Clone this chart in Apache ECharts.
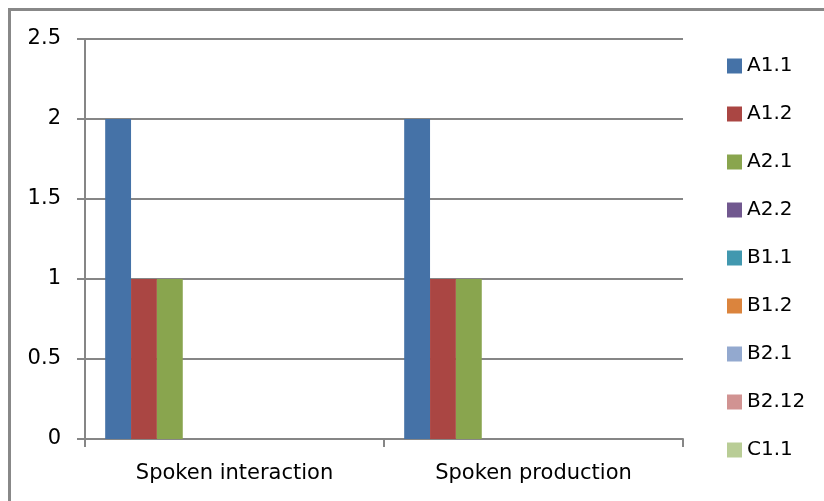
<!DOCTYPE html>
<html>
<head>
<meta charset="utf-8">
<script src="https://cdn.jsdelivr.net/npm/echarts@6/dist/echarts.min.js"></script>
<style>
  html, body { margin: 0; padding: 0; background: #fff; }
  #chart { width: 824px; height: 501px; }
</style>
</head>
<body>
<div id="chart"></div>
<script>
// categories and series
var categories = ["Spoken interaction", "Spoken production"];
var seriesNames = ["A1.1", "A1.2", "A2.1", "A2.2", "B1.1", "B1.2", "B2.1", "B2.12", "C1.1"];
var seriesColors = ["#4572A7", "#AA4643", "#89A54E", "#71588F", "#4198AF", "#DB843D", "#93A9CF", "#D19392", "#B9CD96"];
var a11 = [2, 2];
var a12 = [1, 1];
var a21 = [1, 1];
var a22 = [0, 0];
var b11 = [0, 0];
var b12 = [0, 0];
var b21 = [0, 0];
var b212 = [0, 0];
var c11 = [0, 0];
var yTicks = [0, 0.5, 1, 1.5, 2, 2.5];

var values = [a11, a12, a21, a22, b11, b12, b21, b212, c11];

var series = seriesNames.map(function (name, i) {
  return {
    name: name,
    type: "bar",
    data: values[i],
    itemStyle: { color: seriesColors[i] },
    barGap: "0%",
    barCategoryGap: "13.5%",
  };
});
// an empty slot at the end of each cluster, as in the original chart
series.push({
  name: "",
  type: "bar",
  data: [null, null],
  barGap: "0%",
  barCategoryGap: "13.5%",
});

var option = {
  backgroundColor: "#ffffff",
  animation: false,
  textStyle: { fontFamily: "DejaVu Sans", color: "#000" },
  grid: { left: 85, right: 141, top: 39, bottom: 62 },
  legend: {
    orient: "vertical",
    left: 727,
    top: 56,
    padding: 0,
    data: seriesNames,
    icon: "rect",
    itemWidth: 15,
    itemHeight: 15,
    itemGap: 28,
    textStyle: { fontFamily: "DejaVu Sans", fontSize: 20, color: "#000" },
  },
  xAxis: {
    type: "category",
    data: categories,
    axisLine: { lineStyle: { color: "#868686", width: 2 } },
    axisTick: { show: true, length: 8, lineStyle: { color: "#868686", width: 2 } },
    axisLabel: { fontSize: 21, color: "#000", margin: 24, fontFamily: "DejaVu Sans" },
  },
  yAxis: {
    type: "value",
    min: yTicks[0],
    max: yTicks[yTicks.length - 1],
    interval: 0.5,
    axisLine: { show: true, lineStyle: { color: "#868686", width: 2 } },
    axisTick: { show: true, length: 8, lineStyle: { color: "#868686", width: 2 } },
    axisLabel: { fontSize: 21, color: "#000", margin: 24, fontFamily: "DejaVu Sans" },
    splitLine: { lineStyle: { color: "#868686", width: 2 } },
  },
  graphic: [
    {
      type: "rect",
      shape: { x: 9.5, y: 9.5, width: 830, height: 510 },
      style: { fill: "none", stroke: "#888888", lineWidth: 3 },
      silent: true,
    },
  ],
  series: series,
};

var myChart = echarts.init(document.getElementById("chart"));
myChart.setOption(option);
</script>
</body>
</html>
